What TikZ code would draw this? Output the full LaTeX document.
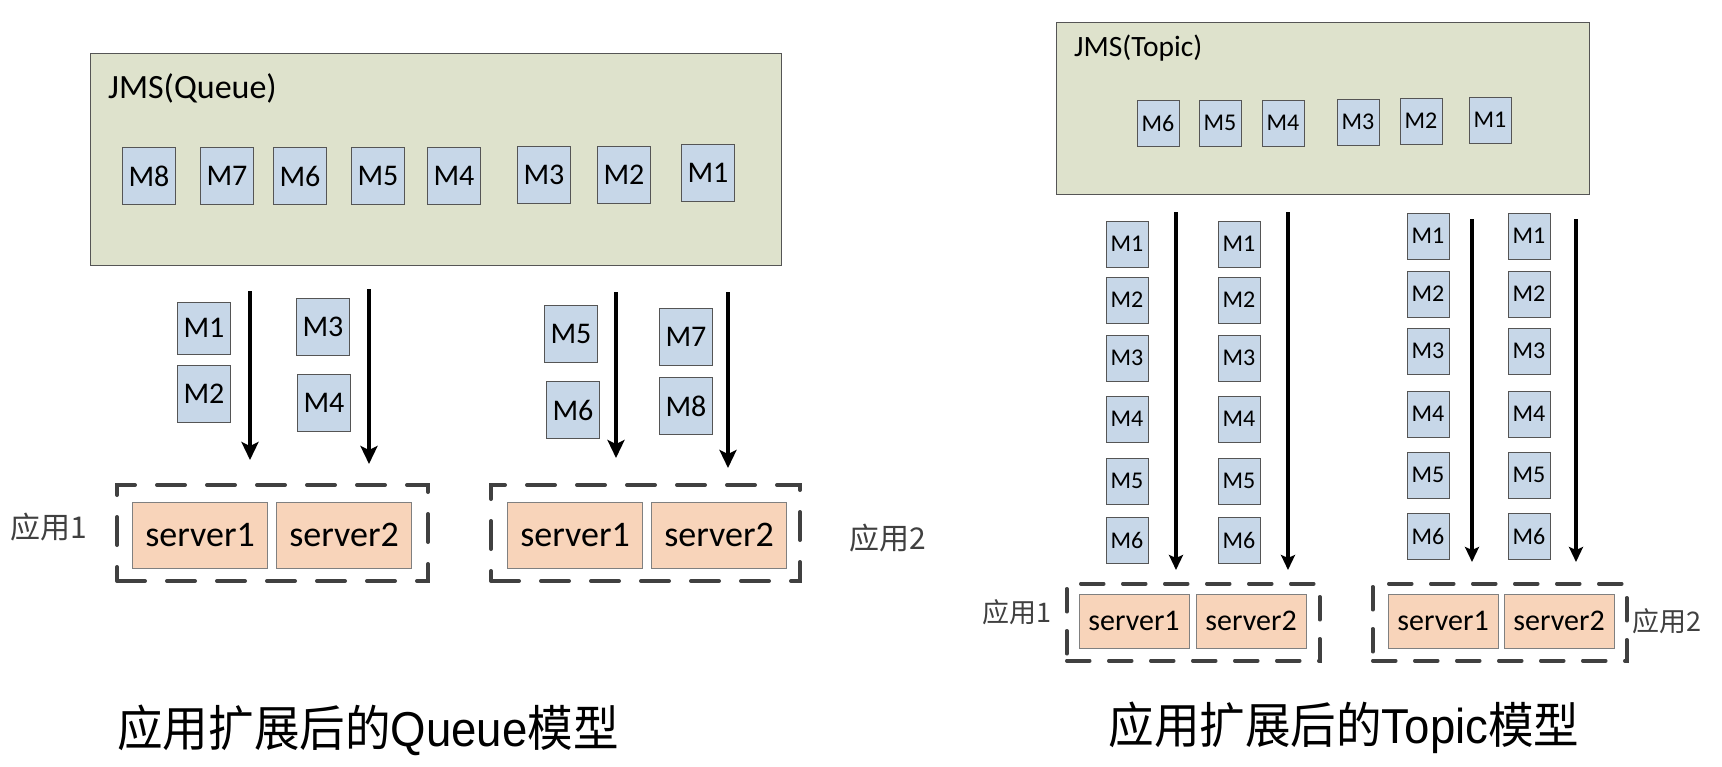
\documentclass[tikz,border=0pt]{standalone}
\usepackage{fontspec}
\setmainfont{Carlito}
\newfontfamily\cjk{Noto Sans CJK SC}
\newfontfamily\titlelat{Liberation Sans}
\usetikzlibrary{arrows.meta}
\definecolor{jmsfill}{RGB}{222,226,204}
\definecolor{mfill}{RGB}{199,215,232}
\definecolor{srvfill}{RGB}{248,212,186}
\definecolor{edgegray}{RGB}{85,85,85}
\definecolor{dashgray}{RGB}{64,64,64}
\tikzset{
  jms/.style={draw=edgegray, line width=1.2pt, fill=jmsfill},
  qm/.style={draw=edgegray, line width=1pt, fill=mfill, minimum width=53pt, minimum height=57pt, inner sep=0pt, font=\fontsize{30}{32}\selectfont},
  tm/.style={draw=edgegray, line width=1pt, fill=mfill, minimum width=42pt, minimum height=46pt, inner sep=0pt, font=\fontsize{24}{26}\selectfont},
  qsrv/.style={draw=gray, line width=1pt, fill=srvfill, minimum width=135pt, minimum height=66pt, inner sep=0pt, font=\fontsize{36}{38}\selectfont},
  tsrv/.style={draw=gray, line width=1pt, fill=srvfill, minimum width=110pt, minimum height=54pt, inner sep=0pt, font=\fontsize{30}{32}\selectfont},
  grp/.style={draw=dashgray, line width=4pt, line cap=round, dash pattern=on 28pt off 22pt},
  tgrp/.style={draw=dashgray, line width=3.5pt, line cap=round, dash pattern=on 23pt off 19pt},
  flow/.style={line width=4pt, -{Stealth[length=18pt,width=17pt,inset=4pt]}},
  tflow/.style={line width=3.5pt, -{Stealth[length=15pt,width=14pt,inset=3pt]}},
  lbl/.style={inner sep=0pt, font=\cjk\fontsize{30}{32}\selectfont, text=black!75},
  tlbl/.style={inner sep=0pt, font=\cjk\fontsize{27}{29}\selectfont, text=black!75},
  ttl/.style={inner sep=0pt, font=\cjk\fontsize{49}{52}\selectfont}
}
\begin{document}
\begin{tikzpicture}[x=1pt,y=-1pt]
\useasboundingbox[fill=white] (0,0) rectangle (1722,766);

% ================= Queue =================
\node[jms, minimum width=691pt, minimum height=212pt, anchor=north west] (qjms) at (90,53) {};
\node[anchor=west, inner sep=0pt, font=\fontsize{34}{36}\selectfont] (qjmslbl) at (108,88) {JMS(Queue)};
\node[qm] (q8) at (149,176) {M8};
\node[qm] (q7) at (227,176) {M7};
\node[qm] (q6) at (300,176) {M6};
\node[qm] (q5) at (378,176) {M5};
\node[qm] (q4) at (454,176) {M4};
\node[qm] (q3) at (544,175) {M3};
\node[qm] (q2) at (624,175) {M2};
\node[qm] (q1) at (708,173) {M1};

\node[qm, minimum height=52pt] (qa1) at (204,328) {M1};
\node[qm] (qa2) at (204,394) {M2};
\node[qm] (qb3) at (323,327) {M3};
\node[qm] (qb4) at (324,403) {M4};
\node[qm] (qc5) at (571,334) {M5};
\node[qm] (qc6) at (573,410) {M6};
\node[qm] (qd7) at (686,337) {M7};
\node[qm] (qd8) at (686,406) {M8};

\coordinate (qas) at (250,291); \coordinate (qae) at (250,460);
\coordinate (qbs) at (369,289); \coordinate (qbe) at (369,464);
\coordinate (qcs) at (616,292); \coordinate (qce) at (616,458);
\coordinate (qds) at (728,292); \coordinate (qde) at (728,468);
\draw[flow] (qas) -- (qae);
\draw[flow] (qbs) -- (qbe);
\draw[flow] (qcs) -- (qce);
\draw[flow] (qds) -- (qde);

\node[grp, minimum width=311pt, minimum height=96pt, anchor=north west] (qg1) at (115,483) {};
\node[grp, minimum width=309pt, minimum height=96pt, anchor=north west] (qg2) at (489,483) {};
\node[qsrv] (qs11) at (200,535) {server1};
\node[qsrv] (qs12) at (344,535) {server2};
\node[qsrv] (qs21) at (575,535) {server1};
\node[qsrv] (qs22) at (719,535) {server2};
\node[lbl] (qapp1) at (49,527) {应用1};
\node[lbl] (qapp2) at (888,538) {应用2};

\node[ttl] (qtitle) at (368,730) {\scalebox{0.93}[1]{应用扩展后的{\titlelat Queue}模型}};

% ================= Topic =================
\node[jms, minimum width=533pt, minimum height=172pt, anchor=north west] (tjms) at (1056,22) {};
\node[anchor=west, inner sep=0pt, font=\fontsize{29.5}{31}\selectfont] (tjmslbl) at (1074,48) {JMS(Topic)};
\node[tm] (t6) at (1158,123) {M6};
\node[tm] (t5) at (1220,123) {M5};
\node[tm] (t4) at (1283,123) {M4};
\node[tm] (t3) at (1358,122) {M3};
\node[tm] (t2) at (1421,121) {M2};
\node[tm] (t1) at (1490,120) {M1};

\foreach \r/\y in {1/244,2/300,3/358,4/419,5/481,6/540}{
  \node[tm] (ta\r) at (1127,\y) {M\r};
  \node[tm] (tb\r) at (1239,\y) {M\r};
}
\foreach \r/\y in {1/236,2/294,3/351,4/414,5/475,6/536}{
  \node[tm] (tc\r) at (1428,\y) {M\r};
  \node[tm] (td\r) at (1529,\y) {M\r};
}

\coordinate (tas) at (1176,212); \coordinate (tae) at (1176,570);
\coordinate (tbs) at (1288,212); \coordinate (tbe) at (1288,570);
\coordinate (tcs) at (1472,219); \coordinate (tce) at (1472,562);
\coordinate (tds) at (1576,219); \coordinate (tde) at (1576,562);
\draw[tflow] (tas) -- (tae);
\draw[tflow] (tbs) -- (tbe);
\draw[tflow] (tcs) -- (tce);
\draw[tflow] (tds) -- (tde);

\node[tgrp, minimum width=253pt, minimum height=77pt, anchor=north west] (tg1) at (1065,582) {};
\node[tgrp, minimum width=254pt, minimum height=77pt, anchor=north west] (tg2) at (1371,582) {};
\node[tsrv] (ts11) at (1134,621) {server1};
\node[tsrv] (ts12) at (1251,621) {server2};
\node[tsrv] (ts21) at (1443,621) {server1};
\node[tsrv] (ts22) at (1559,621) {server2};
\node[tlbl] (tapp1) at (1017,612) {应用1};
\node[tlbl] (tapp2) at (1667,621) {应用2};

\node[ttl] (ttitle) at (1344,728) {\scalebox{0.93}[1]{应用扩展后的{\titlelat Topic}模型}};
\end{tikzpicture}
\end{document}
